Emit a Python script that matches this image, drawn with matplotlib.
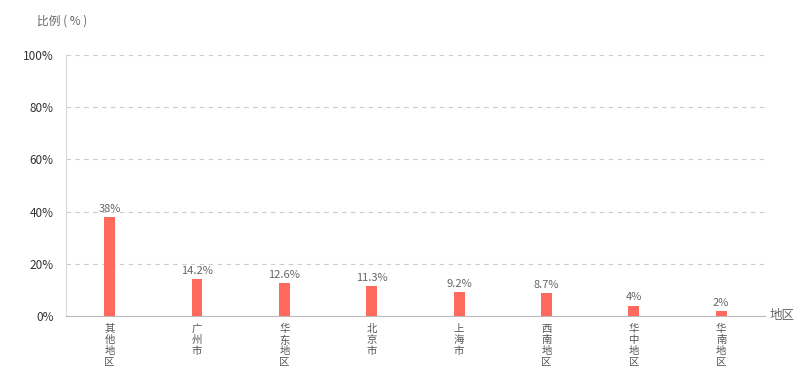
import matplotlib.pyplot as plt

plt.rcParams['font.family'] = ['Noto Sans CJK SC', 'DejaVu Sans']

# data
regions = ['其他地区', '广州市', '华东地区', '北京市', '上海市', '西南地区', '华中地区', '华南地区']
values = [38, 14.2, 12.6, 11.3, 9.2, 8.7, 4, 2]
value_labels = ['38%', '14.2%', '12.6%', '11.3%', '9.2%', '8.7%', '4%', '2%']
y_ticks = [0, 20, 40, 60, 80, 100]

fig = plt.figure(figsize=(8, 3.89), dpi=100)
ax = fig.add_axes([0.0825, 0.1877, 0.8735, 0.6709])

x = range(len(regions))
ax.bar(x, values, width=0.125, color='#ff6a5c', zorder=3)

for i, v in enumerate(values):
    ax.text(i, v + 1.2, value_labels[i], ha='center', va='bottom',
            fontsize=8, color='#666666')

ax.set_xlim(-0.5, len(regions) - 0.5)
ax.set_ylim(0, 100)
ax.set_yticks(y_ticks)
ax.set_yticklabels([f'{t}%' for t in y_ticks], fontsize=8.5, color='#333333')
ax.set_xticks(list(x))
ax.set_xticklabels(['\n'.join(r) for r in regions], fontsize=7.5,
                   color='#555555', linespacing=1.1, va='top')
ax.tick_params(axis='both', length=0)
ax.tick_params(axis='x', pad=6)
ax.tick_params(axis='y', pad=9)

for t in y_ticks[1:]:
    ax.axhline(t, color='#cccccc', lw=0.8, ls=(0, (4, 4)), zorder=1)

for s in ['top', 'right']:
    ax.spines[s].set_visible(False)
ax.spines['left'].set_color('#d9d9d9')
ax.spines['bottom'].set_color('#bbbbbb')

fig.text(0.046, 0.945, '比例 ( % )', fontsize=8.5, color='#666666', va='center')
fig.text(0.962, 0.1877, '地区', fontsize=9, color='#666666', va='center')

plt.savefig('out.png', dpi=100)
